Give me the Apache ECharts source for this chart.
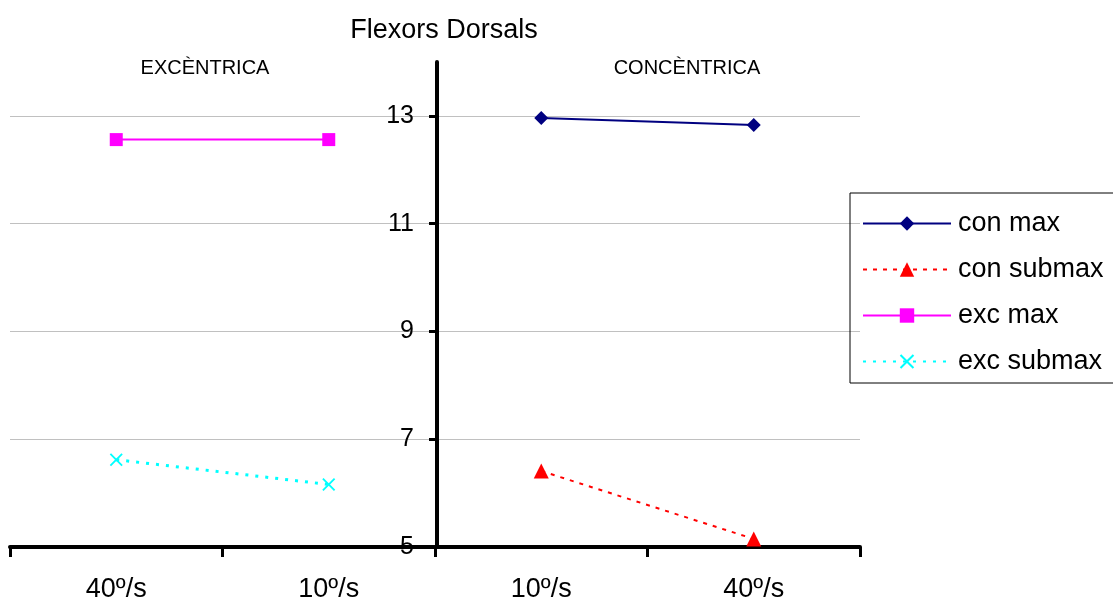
<!DOCTYPE html>
<html>
<head>
<meta charset="utf-8">
<script src="https://cdn.jsdelivr.net/npm/echarts@6/dist/echarts.min.js"></script>
<style>html,body{margin:0;padding:0;background:#fff}#c{width:1113px;height:603px}</style>
</head>
<body>
<div id="c"></div>
<script>
var categories = ['40º/s', '10º/s', '10º/s', '40º/s'];
var conMax = [null, null, 12.96, 12.83];
var conSubmax = [null, null, 6.41, 5.15];
var excMax = [12.56, 12.56, null, null];
var excSubmax = [6.62, 6.16, null, null];
var yTicks = [5, 7, 9, 11, 13];

var FONT = 'Liberation Sans, Arial, sans-serif';
var xSymbol = 'path://M0,1L1,0L5,4L9,0L10,1L6,5L10,9L9,10L5,6L1,10L0,9L4,5Z';

var chart = echarts.init(document.getElementById('c'));
chart.setOption({
  backgroundColor: '#fff',
  animation: false,
  title: [
    {text: 'Flexors Dorsals', left: 439, top: 12, textAlign: 'center',
     textStyle: {fontFamily: FONT, fontSize: 27, fontWeight: 'normal', color: '#000'}},
    {text: 'EXCÈNTRICA', left: 200, top: 53, textAlign: 'center',
     textStyle: {fontFamily: FONT, fontSize: 20, fontWeight: 'normal', color: '#000'}},
    {text: 'CONCÈNTRICA', left: 682, top: 53, textAlign: 'center',
     textStyle: {fontFamily: FONT, fontSize: 20, fontWeight: 'normal', color: '#000'}}
  ],
  legend: {
    orient: 'vertical',
    left: 850, top: 193,
    padding: [17, 40, 8, 12],
    itemWidth: 88, itemHeight: 18, itemGap: 19,
    borderColor: '#000', borderWidth: 1,
    textStyle: {fontFamily: FONT, fontSize: 27, color: '#000', padding: [0, 0, 0, 2]},
    data: ['con max', 'con submax', 'exc max', 'exc submax']
  },
  grid: {left: 10, right: 253, top: 62, bottom: 55, containLabel: false},
  xAxis: {
    type: 'category',
    data: categories,
    boundaryGap: true,
    axisLine: {lineStyle: {color: '#000', width: 4}},
    axisTick: {show: true, length: 10, lineStyle: {color: '#000', width: 3}},
    axisLabel: {fontFamily: FONT, fontSize: 27, color: '#000', margin: 29},
    splitLine: {show: false}
  },
  yAxis: {
    type: 'value',
    position: 'left',
    offset: -427,
    min: 5, max: 14, interval: 2,
    axisLine: {show: true, lineStyle: {color: '#000', width: 4}},
    axisTick: {show: true, length: 8, lineStyle: {color: '#000', width: 3}},
    axisLabel: {fontFamily: FONT, fontSize: 25, color: '#000', margin: 23,
      showMaxLabel: false,
      formatter: function (v) { return yTicks.indexOf(v) >= 0 ? String(v) : ''; }},
    splitLine: {show: true, showMaxLine: false, lineStyle: {color: '#c0c0c0', width: 1}}
  },
  series: [
    {name: 'con max', type: 'line', data: conMax,
     symbol: 'diamond', symbolSize: 14,
     lineStyle: {color: '#000080', width: 2}, itemStyle: {color: '#000080'}},
    {name: 'con submax', type: 'line', data: conSubmax,
     symbol: 'triangle', symbolSize: 15,
     lineStyle: {color: '#ff0000', width: 2, type: [4, 6]}, itemStyle: {color: '#ff0000'}},
    {name: 'exc max', type: 'line', data: excMax,
     symbol: 'rect', symbolSize: 13,
     lineStyle: {color: '#ff00ff', width: 2}, itemStyle: {color: '#ff00ff'}},
    {name: 'exc submax', type: 'line', data: excSubmax,
     symbol: xSymbol, symbolSize: 13,
     lineStyle: {color: '#00ffff', width: 3, type: [3, 7]}, itemStyle: {color: '#00ffff'}}
  ]
});
</script>
</body>
</html>
